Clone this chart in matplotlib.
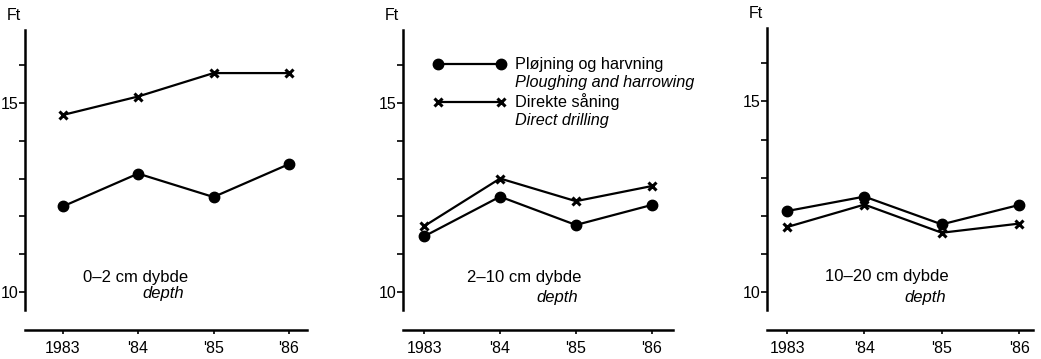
import matplotlib.pyplot as plt
from matplotlib.transforms import blended_transform_factory

plt.rcParams['font.family'] = ['Liberation Sans', 'DejaVu Sans']

years = [1983, 1984, 1985, 1986]
year_labels = ['1983', "'84", "'85", "'86"]

# Ft per depth layer: ploughing/harrowing (circles) and direct drilling (crosses)
depths = ['0\u20132 cm dybde', '2\u201310 cm dybde', '10\u201320 cm dybde']
ploughing = [
    [12.26, 13.13, 12.51, 13.38],
    [11.47, 12.52, 11.77, 12.30],
    [12.12, 12.50, 11.77, 12.28],
]
drilling = [
    [14.68, 15.17, 15.79, 15.79],
    [11.74, 13.00, 12.40, 12.80],
    [11.70, 12.29, 11.55, 11.79],
]

legend_labels = ['Pl\u00f8jning og harvning', 'Ploughing and harrowing',
                 'Direkte s\u00e5ning', 'Direct drilling']

W, H = 1041, 359
fig = plt.figure(figsize=(W / 100, H / 100), dpi=100)

# axes boxes in pixels: left, right, top, bottom; plus x limits
boxes = [(25, 307, 30, 310), (403, 673, 30, 310), (767, 1033, 28, 310)]
xlims = [(1982.5, 1986.24), (1982.72, 1986.28), (1982.74, 1986.18)]
label_x = [(0.206, 0.415), (0.237, 0.496), (0.218, 0.515)]
label_y = [(10.39, 9.95), (10.39, 9.84), (10.39, 9.86)]

FS = 12

for i in range(3):
    l, r, t, b = boxes[i]
    ax = fig.add_axes([l / W, 1 - b / H, (r - l) / W, (b - t) / H])
    ax.plot(years, ploughing[i], color='black', lw=1.6, marker='o',
            ms=7.5, zorder=3)
    ax.plot(years, drilling[i], color='black', lw=1.6, marker='x',
            ms=6, mew=2.2, zorder=3)

    ax.set_xlim(*xlims[i])
    ax.set_ylim(9.52, 16.93)
    ax.set_xticks(years)
    ax.set_xticklabels(year_labels)
    ax.set_yticks(range(10, 17))
    ax.set_yticklabels(['10', '', '', '', '', '15', ''])

    for s in ['top', 'right']:
        ax.spines[s].set_visible(False)
    ax.spines['bottom'].set_position(('outward', 14.4))
    ax.spines['left'].set_linewidth(1.8)
    ax.spines['bottom'].set_linewidth(1.8)
    ax.tick_params(axis='y', length=4, width=1.2, pad=1, labelsize=11.5)
    ax.tick_params(axis='x', length=3, width=1.2, pad=5, labelsize=11.5)

    ax.text(-0.04, 1.05, 'Ft', transform=ax.transAxes, fontsize=11.5,
            ha='center', va='center')

    tr = blended_transform_factory(ax.transAxes, ax.transData)
    ax.text(label_x[i][0], label_y[i][0], depths[i], fontsize=FS,
            transform=tr, va='center')
    ax.text(label_x[i][1], label_y[i][1], 'depth', fontsize=FS,
            style='italic', transform=tr, va='center')

    if i == 1:
        ax.plot([0.13, 0.363], [16.03, 16.03], color='black', lw=1.6,
                marker='o', ms=7.5, transform=tr, clip_on=False)
        ax.plot([0.13, 0.363], [15.03, 15.03], color='black', lw=1.6,
                marker='x', ms=6, mew=2.2, transform=tr, clip_on=False)
        ys = [16.03, 15.53, 15.03, 14.53]
        for j, txt in enumerate(legend_labels):
            ax.text(0.415, ys[j], txt, transform=tr, fontsize=11.7,
                    va='center', style='italic' if j % 2 else 'normal')

fig.savefig('out.png', dpi=100)
